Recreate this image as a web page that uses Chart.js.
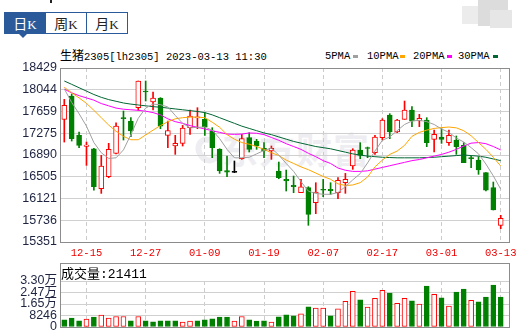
<!DOCTYPE html>
<html><head><meta charset="utf-8">
<script src="https://cdn.jsdelivr.net/npm/chart.js@4.4.1/dist/chart.umd.min.js"></script>
<style>
*{box-sizing:border-box}
html,body{margin:0;padding:0;background:#fff}
body{width:519px;height:334px;position:relative;overflow:hidden;font-family:"Liberation Mono","Noto Sans CJK SC",monospace;color:#000}
.tab{position:absolute;top:12px;height:22px;width:42px;border:1px solid #2b5a9b;background:#fff;color:#222;font-size:14px;line-height:20px;text-align:center;font-family:"Noto Sans CJK SC",sans-serif}
.tab .k{font-family:"Liberation Serif",serif;font-size:13px}
.tab.on{background:#2b5a9b;color:#fff}
#ptr{position:absolute;left:19px;top:34px;width:0;height:0;border-left:4px solid transparent;border-right:4px solid transparent;border-top:4px solid #2b5a9b}
#title{position:absolute;left:60px;top:47px;font-size:10.5px;line-height:16px;white-space:nowrap}
#title .cn{font-family:"Noto Sans CJK SC";font-size:12px}
.lg{position:absolute;top:48px;font-size:10.5px;line-height:16px;white-space:nowrap}
.sw{position:absolute;top:55px;width:5px;height:3px}
#wm{position:absolute;left:222px;top:126px;font-family:"Noto Sans CJK SC";font-weight:bold;font-size:36px;line-height:44px;color:#eeeef2;letter-spacing:1px;white-space:nowrap}
#wmlogo{position:absolute;left:196px;top:136px;width:24px;height:28px;border-radius:50%;border:6px solid #eeeef2;border-right-color:transparent;transform:rotate(-30deg)}
canvas{position:absolute;left:0}
#c1{top:0}
#c2{top:262px}
#vt{position:absolute;left:61px;top:264px;font-size:13px;line-height:17px;white-space:nowrap}
#vt .cn{font-family:"Noto Sans CJK SC";font-size:13px}
.blur{position:absolute}
</style></head><body>
<div class="blur" style="left:462px;top:6px;width:18px;height:18px;background:#ececec"></div>
<div class="blur" style="left:478px;top:0px;width:30px;height:26px;background:#dcdcdc"></div>
<div class="blur" style="left:490px;top:10px;width:22px;height:18px;background:#e6e6e6"></div>
<div style="position:absolute;left:50px;top:0;width:2px;height:3px;background:#222"></div>
<div class="tab on" style="left:4px">日<span class="k">K</span></div>
<div class="tab" style="left:45px">周<span class="k">K</span></div>
<div class="tab" style="left:86px">月<span class="k">K</span></div>
<div id="ptr"></div>
<div id="title"><span class="cn">生猪</span>2305[lh2305] 2023-03-13 11:30</div>
<div class="lg" style="left:325px">5PMA</div><div class="sw" style="left:353px;background:#a0a0a0"></div>
<div class="lg" style="left:367px">10PMA</div><div class="sw" style="left:400px;background:#ffa500"></div>
<div class="lg" style="left:413px">20PMA</div><div class="sw" style="left:447px;background:#ff00ff"></div>
<div class="lg" style="left:458px">30PMA</div><div class="sw" style="left:493px;background:#006633"></div>
<div id="wmlogo"></div>
<div id="wm">东方财富</div>
<canvas id="c1" width="519" height="262"></canvas>
<canvas id="c2" width="519" height="72"></canvas>
<div id="vt"><span class="cn">成交量</span>:<span id="vv"></span></div>
<script>
const dates = ['12-12','12-13','12-14','12-15','12-16','12-19','12-20','12-21','12-22','12-23','12-26','12-27','12-28','12-29','12-30',
'01-03','01-04','01-05','01-06','01-09','01-10','01-11','01-12','01-13','01-16','01-17','01-18','01-19','01-20',
'01-30','01-31','02-01','02-02','02-03','02-06','02-07','02-08','02-09','02-10','02-13','02-14','02-15','02-16','02-17',
'02-20','02-21','02-22','02-23','02-24','02-27','02-28','03-01','03-02','03-03','03-06','03-07','03-08','03-09','03-10','03-13'];
const xTickLabels = ['12-15','12-27','01-09','01-19','02-07','02-17','03-01','03-13'];
const opens  = [17520,17933,17238,17043,17001,16294,16506,16919,17550,17491,17727,18022,17827,17898,17238,17049,17096,17373,17545,17521,
17314,16990,16613,16590,16825,17196,17137,17007,16960,16607,16459,16353,16223,16312,16046,16282,16282,16223,16400,16695,
16978,17020,16931,17196,17597,17297,17521,17686,17491,17509,17167,17208,17108,17155,17061,16843,16801,16577,16312,15646];
const highs  = [17874,17969,17296,17119,17007,16883,17096,17461,17668,17550,18199,18199,18004,17904,17491,17238,17414,17686,17727,17639,
17373,17002,16872,16784,17255,17284,17167,17108,17049,16766,16624,16518,16459,16329,16400,16459,16400,16489,16565,17002,
17108,17031,17238,17532,17621,17521,17845,17745,17609,17550,17332,17356,17332,17226,17108,16872,16860,16577,16412,15823];
const lows   = [17119,17137,17019,16706,16270,16211,16488,16907,17155,17214,17680,17845,17686,17355,17019,16901,17049,17255,17355,17238,
16843,16565,16507,16577,16813,16943,16990,16843,16813,16470,16253,16223,16223,15646,15852,16152,16194,16117,16212,16636,
16825,16843,16901,17155,17179,17285,17521,17391,17391,17037,16943,17096,17061,16901,16754,16666,16548,16253,15917,15587];
const closes = [17768,17178,17060,17066,16329,16694,16990,17402,17532,17314,18199,18004,17898,17402,17320,17096,17367,17580,17565,17391,
17019,16607,16585,16590,17179,16990,17049,16960,17007,16489,16430,16329,16329,15840,16235,16270,16259,16441,16459,16978,
16884,17008,17208,17509,17297,17509,17686,17491,17538,17108,17255,17167,17238,17037,16754,16825,16624,16270,15917,15770];
const ma5  = [18060,17820,17620,17400,17110,16930,16830,16840,16980,17250,17540,17720,17790,17780,17740,17590,17450,17370,17380,17385,
17330,17180,16990,16840,16840,16850,16910,16970,17010,16890,16740,16600,16420,16250,16210,16195,16195,16225,16330,16450,
16560,16750,16960,17150,17210,17320,17430,17490,17505,17480,17430,17350,17290,17190,17120,17020,16910,16730,16520,16285];
const ma10 = [18087,17990,17900,17804,17680,17550,17420,17310,17220,17160,17160,17244,17330,17410,17480,17530,17550,17560,17560,17550,
17470,17380,17250,17170,17110,17080,17040,16990,16930,16880,16800,16740,16680,16630,16570,16510,16460,16380,16350,16360,
16400,16500,16680,16800,16900,16960,17060,17220,17290,17330,17360,17375,17385,17370,17320,17230,17110,16990,16850,16695];
const ma20 = [18055,17990,17940,17900,17860,17800,17760,17720,17700,17690,17680,17665,17640,17600,17530,17480,17450,17410,17380,17350,
17320,17290,17260,17255,17260,17280,17275,17250,17200,17150,17090,17040,16990,16920,16860,16790,16740,16660,16620,16600,
16600,16610,16640,16670,16700,16730,16760,16790,16810,16840,16870,16900,16940,16990,17050,17100,17110,17090,17040,16980];
const ma30 = [18199,18140,18080,18020,17960,17910,17870,17840,17810,17790,17775,17760,17745,17735,17720,17705,17690,17675,17660,17640,
17600,17550,17500,17450,17400,17360,17320,17280,17250,17210,17170,17130,17100,17070,17040,17020,17000,16970,16940,16910,
16890,16870,16860,16850,16845,16840,16840,16840,16840,16845,16850,16860,16870,16880,16890,16880,16870,16850,16820,16790];
const volumes = [5190,6400,4480,5690,7110,8530,6400,7540,7540,4480,7540,4480,3770,4480,4480,4480,3550,4270,4480,5190,
5900,7110,7110,4270,7540,5190,4270,4480,3550,7320,8750,8030,9460,14430,13510,13510,8030,13010,18490,25600,
19410,14220,20620,26310,24390,17060,20620,18700,16350,29360,23460,20830,14930,25100,27230,19200,17990,21540,30080,21411];
// 1 = close above previous close (red bar), 0 = below (green bar)
const volumeUp = [0,0,0,1,0,1,1,1,1,0,1,0,0,0,0,0,1,1,0,0,0,0,0,1,1,0,0,0,1,0,0,0,1,0,1,1,0,1,1,1,0,1,1,1,0,1,1,0,1,0,1,0,1,0,0,1,0,0,0,0];
const yTicks = [15351,15736,16121,16505,16890,17275,17659,18044,18429];
const volTicks = [0,8246,16492,24738,32984];
const volTickLabels = ['0','8246','1.65万','2.47万','3.30万'];

const RED='#ff0000', GREEN='#008000', BLACK='#000000';
const idx = dates.map((d,i)=>i);
const dir = idx.map(i => closes[i]>opens[i]?1:(closes[i]<opens[i]?-1:0));
const candleColor = idx.map(i => dir[i]>0?RED:(dir[i]<0?GREEN:BLACK));
const bodyFill = idx.map(i => dir[i]>0?'#ffffff':candleColor[i]);

document.getElementById('vv').textContent = volumes[volumes.length-1];

const XMIN=-0.58, XMAX=60.12;
const frame = {
  id:'frame',
  afterDraw(chart, args, opts){
    const {ctx, chartArea:a} = chart;
    const top = (opts && opts.top!=null)?opts.top:a.top;
    ctx.save();
    ctx.strokeStyle='#8c8c8c'; ctx.lineWidth=1;
    ctx.strokeRect(Math.round(a.left)+0.5, Math.round(top)+0.5, Math.round(a.right)-Math.round(a.left), Math.round(a.bottom)-Math.round(top));
    ctx.restore();
  }
};
const xCommon = (showTicks)=>({
  type:'linear', min:XMIN, max:XMAX, offset:false,
  grid:{color:'#cccccc', lineWidth:1, drawTicks:false, offset:false},
  border:{display:false, dash:[4,3]},
  afterBuildTicks:s=>{ s.ticks = xTickLabels.map(l=>({value:dates.indexOf(l)})); },
  afterFit:s=>{ s.height = showTicks?20:0; s.paddingLeft=0; s.paddingRight=0; },
  ticks:{display:showTicks, autoSkip:false, maxRotation:0, padding:5, color:'#ee0000',
    font:{family:'Liberation Mono', size:10.5}, callback:v=>dates[v]}
});

new Chart(document.getElementById('c1'), {
  type:'bar',
  data:{datasets:[
    {type:'line', data:idx.map(i=>({x:i,y:ma5[i]})), borderColor:'#a0a0a0', borderWidth:1, pointRadius:0, tension:0},
    {type:'line', data:idx.map(i=>({x:i,y:ma10[i]})), borderColor:'#ffa500', borderWidth:1, pointRadius:0, tension:0},
    {type:'line', data:idx.map(i=>({x:i,y:ma20[i]})), borderColor:'#ff00ff', borderWidth:1, pointRadius:0, tension:0},
    {type:'line', data:idx.map(i=>({x:i,y:ma30[i]})), borderColor:'#006633', borderWidth:1, pointRadius:0, tension:0},
    {data:idx.map(i=>({x:i,y: dir[i]===0?[opens[i]-9,opens[i]+9]:[opens[i],closes[i]]})),
      backgroundColor:bodyFill, borderColor:candleColor, borderWidth:1, borderSkipped:false, barThickness:5, grouped:false},
    {data:idx.map(i=>({x:i,y:[lows[i],highs[i]]})),
      backgroundColor:candleColor, borderWidth:0, barThickness:1, grouped:false}
  ]},
  options:{
    responsive:false, animation:false, devicePixelRatio:1,
    layout:{padding:{top:68,right:10,left:0,bottom:0}},
    plugins:{legend:{display:false}, tooltip:{enabled:false}},
    scales:{
      x: xCommon(true),
      y:{type:'linear', position:'left', min:15351, max:18429,
        grid:{color:'#d0d0d0', drawTicks:false}, border:{display:false},
        afterBuildTicks:s=>{ s.ticks = yTicks.map(v=>({value:v})); },
        afterFit:s=>{ s.width=60; s.paddingTop=0; s.paddingBottom=0; },
        ticks:{autoSkip:false, padding:3, color:'#1e2440', font:{family:'Liberation Sans', size:12.5}, callback:v=>String(v)}
      }
    }
  },
  plugins:[frame]
});

new Chart(document.getElementById('c2'), {
  type:'bar',
  data:{datasets:[
    {data:idx.map(i=>({x:i,y:volumes[i]})),
      backgroundColor:idx.map(i=>volumeUp[i]?'#ffffff':GREEN),
      borderColor:idx.map(i=>volumeUp[i]?RED:GREEN),
      borderWidth:1, borderSkipped:false, barThickness:5}
  ]},
  options:{
    responsive:false, animation:false, devicePixelRatio:1,
    layout:{padding:{top:19,right:10,left:0,bottom:7}},
    plugins:{legend:{display:false}, tooltip:{enabled:false}, frame:{top:1}},
    scales:{
      x: xCommon(false),
      y:{type:'linear', position:'left', min:0, max:32984,
        grid:{color:'#d0d0d0', drawTicks:false}, border:{display:false},
        afterBuildTicks:s=>{ s.ticks = volTicks.map(v=>({value:v})); },
        afterFit:s=>{ s.width=60; s.paddingTop=0; s.paddingBottom=0; },
        ticks:{autoSkip:false, padding:3, color:'#1e2440', font:{family:"'Liberation Sans','Noto Sans CJK SC'", size:12.5},
          callback:v=>volTickLabels[volTicks.indexOf(v)]}
      }
    }
  },
  plugins:[frame]
});
</script>
</body></html>
